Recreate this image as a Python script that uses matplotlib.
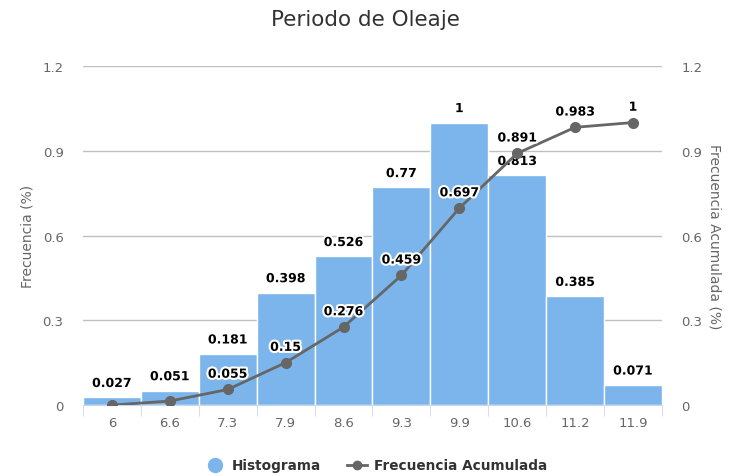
import matplotlib.pyplot as plt
import matplotlib.patheffects as pe
from matplotlib.lines import Line2D
import numpy as np

categorias = ["6", "6.6", "7.3", "7.9", "8.6", "9.3", "9.9", "10.6", "11.2", "11.9"]
histograma = [0.027, 0.051, 0.181, 0.398, 0.526, 0.77, 1, 0.813, 0.385, 0.071]
acumulada = [0, 0.014, 0.055, 0.15, 0.276, 0.459, 0.697, 0.891, 0.983, 1]
# the first two cumulative labels overlap the bar labels and are left out
mostrar_acum = [False, False, True, True, True, True, True, True, True, True]

color_barra = "#7cb5ec"
color_linea = "#666666"
color_texto = "#666666"

fig = plt.figure(figsize=(7.3, 4.77), dpi=100)
ax = fig.add_axes([0.1137, 0.1488, 0.7931, 0.7107])
ax2 = ax.twinx()

x = np.arange(len(categorias))
ax.bar(x, histograma, width=1.0, color=color_barra, edgecolor="white", linewidth=1, zorder=2)
ax2.plot(x, acumulada, color=color_linea, linewidth=2, marker="o", markersize=7, zorder=3)

contorno = [pe.withStroke(linewidth=3, foreground="white")]
for xi, v in zip(x, histograma):
    ax.annotate(f"{v:g}", (xi, v), xytext=(0, 10), textcoords="offset points",
                ha="center", va="center", fontsize=9, fontweight="bold",
                color="black", path_effects=contorno, zorder=5)
for xi, v, m in zip(x, acumulada, mostrar_acum):
    if m:
        ax2.annotate(f"{v:g}", (xi, v), xytext=(0, 11), textcoords="offset points",
                     ha="center", va="center", fontsize=9, fontweight="bold",
                     color="black", path_effects=contorno, zorder=5)

for a in (ax, ax2):
    a.set_ylim(0, 1.2)
    a.set_yticks([0, 0.3, 0.6, 0.9, 1.2])
    a.set_yticklabels(["0", "0.3", "0.6", "0.9", "1.2"])
    a.tick_params(axis="y", length=0, labelsize=9.5, labelcolor=color_texto, pad=14)
    for s in a.spines.values():
        s.set_visible(False)

ax.set_xlim(-0.5, len(categorias) - 0.5)
ax.yaxis.grid(True, color="#c0c0c0", linewidth=1)
ax.set_axisbelow(True)
ax.spines["bottom"].set_visible(True)
ax.spines["bottom"].set_color("#ccd6eb")
ax.set_xticks(x)
ax.set_xticklabels(categorias)
ax.set_xticks(np.arange(-0.5, len(categorias)), minor=True)
ax.tick_params(axis="x", which="major", length=0, labelsize=9.5, labelcolor=color_texto, pad=8)
ax.tick_params(axis="x", which="minor", length=8, color="#ccd6eb")

ax.set_ylabel("Frecuencia (%)", fontsize=10, color=color_texto, labelpad=6)
ax2.set_ylabel("Frecuencia Acumulada (%)", fontsize=10, color=color_texto,
               rotation=270, labelpad=14)
ax2.set_zorder(ax.get_zorder() + 1)
ax2.patch.set_visible(False)

fig.suptitle("Periodo de Oleaje", fontsize=15.5, color="#333333", y=0.98)

handles = [
    Line2D([], [], linestyle="none", marker="o", markersize=10, color=color_barra),
    Line2D([], [], color=color_linea, linewidth=2, marker="o", markersize=6),
]
fig.legend(handles, ["Histograma", "Frecuencia Acumulada"], loc="lower center",
           bbox_to_anchor=(0.515, -0.018), ncol=2, frameon=False, handlelength=1.5,
           handletextpad=0.5, columnspacing=1.9,
           prop={"size": 9.8, "weight": "bold"}, labelcolor="#333333")

fig.savefig("out.png", dpi=100)
